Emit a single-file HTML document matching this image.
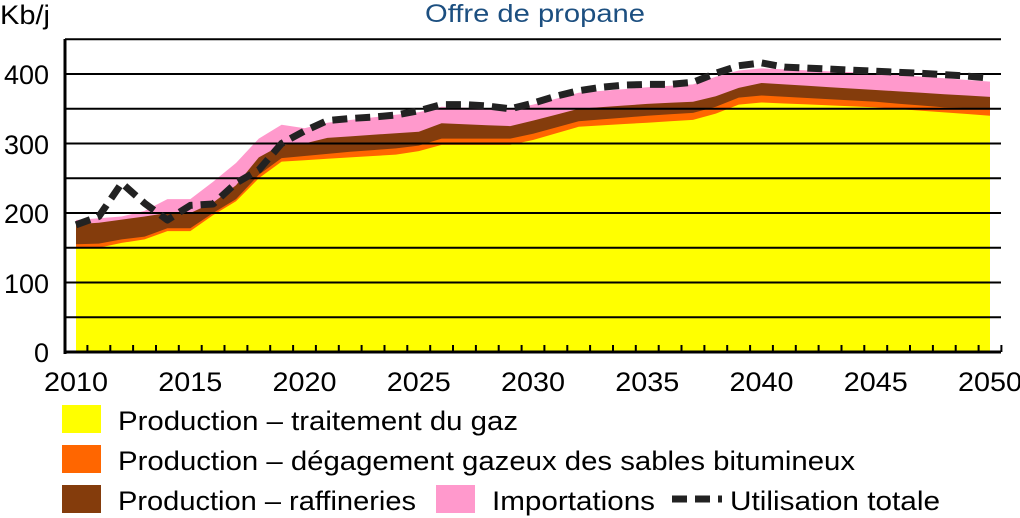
<!DOCTYPE html>
<html><head><meta charset="utf-8"><style>
body{margin:0;background:#fff;width:1020px;height:518px;overflow:hidden}
svg{display:block;font-family:"Liberation Sans",Arial,sans-serif}
</style></head><body>
<svg id="s" width="1020" height="518" xmlns="http://www.w3.org/2000/svg">
<text x="425" y="22" font-size="25" fill="#1c4f80" textLength="220" lengthAdjust="spacingAndGlyphs">Offre de propane</text>
<text x="0" y="24" font-size="27" fill="#000" textLength="50" lengthAdjust="spacingAndGlyphs">Kb/j</text>
<g id="areas"></g>
<g id="grid" stroke="#000" stroke-width="2"></g>
<path id="dash" fill="none" stroke="#222" stroke-width="7" stroke-dasharray="15 8" stroke-linejoin="round"/>
<g font-size="27" fill="#000" text-anchor="end">
<text x="49" y="362">0</text><text x="49" y="293">100</text><text x="49" y="223">200</text><text x="49" y="154">300</text><text x="49" y="84">400</text>
</g>
<g font-size="27" fill="#000" text-anchor="middle" id="xl"></g>
<rect x="62" y="405" width="39" height="28" fill="#ffff00"/>
<rect x="62" y="445" width="39" height="28" fill="#ff6600"/>
<rect x="62" y="485" width="39" height="28" fill="#843c0c"/>
<rect x="436" y="485" width="39" height="28" fill="#ff99cc"/>
<line x1="672" y1="499" x2="722" y2="499" stroke="#222" stroke-width="7" stroke-dasharray="15 8"/>
<g font-size="27" fill="#000" lengthAdjust="spacingAndGlyphs">
<text x="118" y="430" textLength="400" lengthAdjust="spacingAndGlyphs">Production – traitement du gaz</text>
<text x="118" y="470" textLength="737" lengthAdjust="spacingAndGlyphs">Production – dégagement gazeux des sables bitumineux</text>
<text x="118" y="510" textLength="298" lengthAdjust="spacingAndGlyphs">Production – raffineries</text>
<text x="492" y="510" textLength="163" lengthAdjust="spacingAndGlyphs">Importations</text>
<text x="730" y="510" textLength="210" lengthAdjust="spacingAndGlyphs">Utilisation totale</text>
</g>
</svg>
<script>
const X=y=>76+(y-2010)*22.85, Y=v=>352-0.695*v;
function interp(k){const ks=Object.keys(k).map(Number).sort((a,b)=>a-b);const r=[];for(let y=2010;y<=2050;y++){let i=0;while(i<ks.length-1&&ks[i+1]<y)i++;const a=ks[i],b=ks[Math.min(i+1,ks.length-1)];if(y<=a){r.push(k[a]);continue}r.push(k[a]+(k[b]-k[a])*(y-a)/(b-a));}return r}
const yel=interp({2010:150,2011:150,2012:157,2013:162,2014:174,2015:174,2016:197,2017:217,2018:250,2019:274,2020:276,2022:280,2024:284,2025:289,2026:298,2029:298,2030:305,2032:324,2035:330,2037:334,2038:343,2039:356,2040:359,2045:352,2050:340});
const ora=interp({2010:155,2011:156,2012:162,2013:166,2014:178,2015:178,2016:200,2017:220,2018:255,2019:279,2020:282,2022:288,2024:293,2025:297,2026:307,2029:307,2030:314,2032:332,2035:340,2037:344,2038:353,2039:366,2040:369,2045:360,2048:352,2050:350});
const bro=interp({2010:184,2011:186,2013:195,2014:200,2015:200,2016:215,2017:240,2018:280,2019:298,2020:300,2021:308,2025:317,2026:329,2029:325,2030:333,2032:350,2035:357,2037:360,2038:368,2039:380,2040:387,2045:377,2050:367});
const pin=interp({2010:190,2012:195,2013:203,2014:220,2015:220,2016:245,2017:272,2018:307,2019:327,2020:322,2021:330,2025:345,2026:353,2029:349,2030:356,2032:373,2035:381,2037:385,2038:396,2039:405,2040:408,2045:401,2050:389});
const dsh=interp({2010:183,2011:195,2012:243,2013:214,2014:190,2015:211,2016:213,2017:243,2018:262,2019:300,2020:318,2021:333,2022:336,2023:338,2024:341,2025:347,2026:356,2027:356,2028:354,2029:350,2030:358,2031:368,2032:376,2033:381,2034:384,2035:385,2036:385,2037:388,2038:401,2039:412,2040:416,2041:410,2043:407,2045:404,2047:401,2049:397,2050:394});
function pts(a){return a.map((v,i)=>X(2010+i).toFixed(1)+","+Y(v).toFixed(1))}
function area(a,c){return `<polygon fill="${c}" points="${X(2010)},352 ${pts(a).join(" ")} ${X(2050)},352"/>`}
document.getElementById("areas").innerHTML=area(pin,"#ff99cc")+area(bro,"#843c0c")+area(ora,"#ff6600")+area(yel,"#ffff00");
let g="";for(let v=50;v<=450;v+=50)g+=`<line x1="65" x2="1001" y1="${Y(v).toFixed(1)}" y2="${Y(v).toFixed(1)}"/>`;
g+=`<line x1="65" x2="65" y1="39" y2="354" stroke-width="3"/><line x1="64" x2="1001" y1="352" y2="352" stroke-width="3"/>`;
for(let y=2010.5;y<2051;y+=1)g+=`<line x1="${X(y).toFixed(1)}" x2="${X(y).toFixed(1)}" y1="345" y2="352"/>`;
document.getElementById("grid").innerHTML=g;
document.getElementById("dash").setAttribute("d","M"+pts(dsh).join(" L"));
let xl="";for(let y=2010;y<=2050;y+=5)xl+=`<text x="${X(y)}" y="391" textLength="64" lengthAdjust="spacingAndGlyphs">${y}</text>`;
document.getElementById("xl").innerHTML=xl;
</script>
</body></html>
